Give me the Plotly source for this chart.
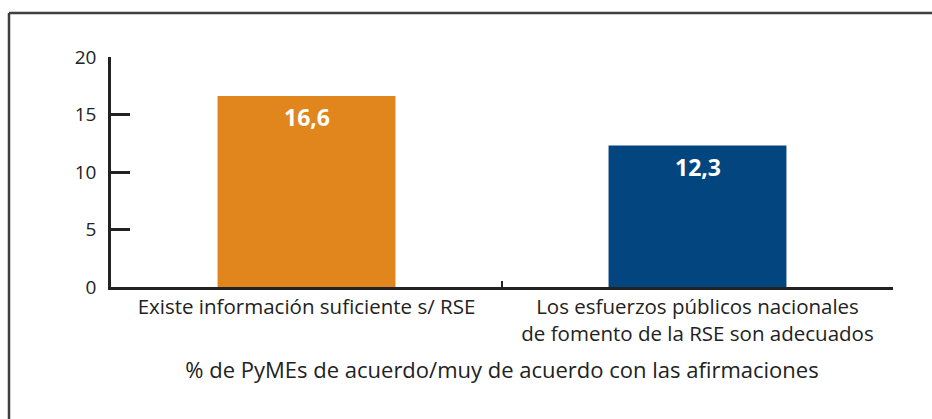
import plotly.graph_objects as go

categories = [
    "Existe información suficiente s/ RSE",
    "Los esfuerzos públicos nacionales<br>de fomento de la RSE son adecuados",
]
values = [16.6, 12.3]
bar_colors = ["#E1861D", "#03467F"]
y_ticks = [0, 5, 10, 15, 20]
x_title = "% de PyMEs de acuerdo/muy de acuerdo con las afirmaciones"

W, H = 932, 419
ML, MR, MT, MB = 111, 39, 57, 132
pw, ph = W - ML - MR, H - MT - MB

FONT = "'Open Sans', 'Noto Sans', sans-serif"
INK = "#222"

fig = go.Figure(
    go.Bar(
        x=categories,
        y=values,
        marker=dict(color=bar_colors, line=dict(width=0)),
        width=0.455,
        hoverinfo="skip",
    )
)

# value labels in white near the top of each bar
for c, v in zip(categories, values):
    fig.add_annotation(
        x=c, y=v, text=f"<b>{v:.1f}</b>".replace(".", ","),
        showarrow=False, yshift=-21, yanchor="middle",
        font=dict(family=FONT, size=23, color="white"),
    )

# frame around the figure (left and top edges)
def px_x(px):
    return (px - ML) / pw

def px_y(py):
    return (H - MB - py) / ph

frame = dict(color="#3f3f3f", width=2.5)
fig.add_shape(type="line", xref="paper", yref="paper",
              x0=px_x(9), x1=px_x(9), y0=px_y(13), y1=px_y(H + 5), line=frame)
fig.add_shape(type="line", xref="paper", yref="paper",
              x0=px_x(9), x1=px_x(W + 5), y0=px_y(13), y1=px_y(13), line=frame)

fig.update_layout(
    width=W, height=H,
    margin=dict(l=ML, r=MR, t=MT, b=MB),
    paper_bgcolor="white", plot_bgcolor="white",
    showlegend=False,
    font=dict(family=FONT, size=18, color=INK),
)
fig.update_xaxes(
    showline=True, linecolor=INK, linewidth=2.5,
    ticks="inside", tickson="boundaries", ticklen=6, tickwidth=2,
    tickcolor=INK, showgrid=False, zeroline=False,
    tickfont=dict(family=FONT, size=20.5, color=INK),
    title=dict(text=x_title, font=dict(family=FONT, size=22, color=INK),
               standoff=17),
    fixedrange=True,
)
fig.update_yaxes(
    range=[0, 20], tickvals=y_ticks,
    showline=True, linecolor=INK, linewidth=2.5,
    ticks="inside", ticklen=19, tickwidth=2.5, tickcolor=INK,
    ticklabelstandoff=8,
    showgrid=False, zeroline=False,
    tickfont=dict(family=FONT, size=19, color=INK),
    fixedrange=True,
)

fig.write_html("out.html", config={"displayModeBar": False})
